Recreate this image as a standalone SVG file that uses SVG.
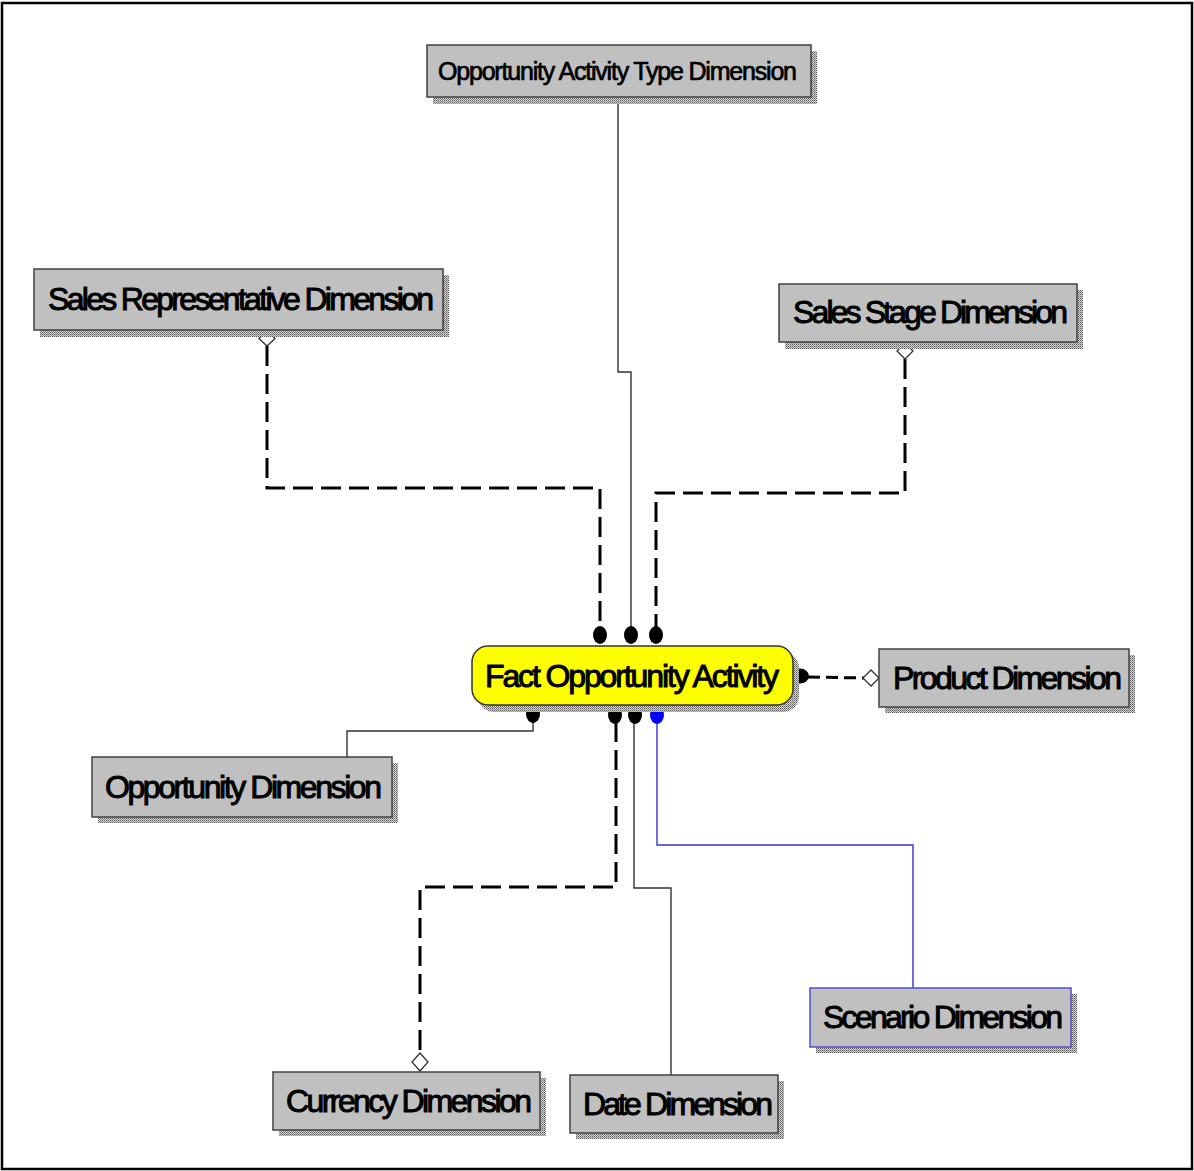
<svg xmlns="http://www.w3.org/2000/svg" width="1194" height="1171" viewBox="0 0 1194 1171">
<defs>
<pattern id="dots" width="2" height="2" patternUnits="userSpaceOnUse">
<rect x="0" y="0" width="2" height="2" fill="#d8d8d8"/>
<rect x="0" y="0" width="1" height="1" fill="#555"/>
<rect x="1" y="1" width="1" height="1" fill="#888"/>
</pattern>
<style>
.box{fill:#c0c0c0;stroke:#404040;stroke-width:1.5}
.shadow{fill:url(#dots)}
.lbl{font-family:"Liberation Sans",Arial,sans-serif;font-size:32px;fill:#000;stroke:#000;stroke-width:1}
.small{font-size:25px;stroke-width:0.7}
.solid{fill:none;stroke:#333;stroke-width:1.4}
.dash{fill:none;stroke:#000;stroke-width:3;stroke-dasharray:20 8}
.blue{fill:none;stroke:#3333cc;stroke-width:1.4}
.dot{fill:#000}
.dia{fill:#fff;stroke:#333;stroke-width:1.3}
</style>
</defs>
<rect x="0" y="0" width="1194" height="1171" fill="#fff"/>
<rect x="2" y="3" width="1190" height="1166" fill="none" stroke="#000" stroke-width="2.5"/>

<g id="connectors">
<polyline class="solid" points="618,98 618,372 631,372 631,628"/>
<polyline class="dash" points="267,346 267,488 600,488 600,628"/>
<polyline class="dash" points="905,359 905,493 656,493 656,628"/>
<polyline class="solid" points="347,757 347,731 533,731 533,722"/>
<polyline class="dash" points="616,722 616,887 420,887 420,1054"/>
<polyline class="solid" points="634,722 634,888 671,888 671,1075"/>
<polyline class="blue" points="657,722 657,845 913,845 913,988"/>
<polyline class="dash" points="808,677 865,678" style="stroke-dasharray:12 6"/>
<ellipse class="dot" cx="600" cy="635" rx="7" ry="9"/>
<ellipse class="dot" cx="631" cy="635" rx="7" ry="9"/>
<ellipse class="dot" cx="656" cy="635" rx="7" ry="9"/>
<ellipse class="dot" cx="533" cy="714" rx="7" ry="9"/>
<ellipse class="dot" cx="615" cy="715" rx="7" ry="9"/>
<ellipse class="dot" cx="635" cy="715" rx="7" ry="9"/>
<ellipse cx="657" cy="715" rx="7" ry="9" fill="#0000ff"/>
<ellipse class="dot" cx="800" cy="676" rx="9" ry="7.5"/>
<polygon class="dia" points="267,331 275,338.5 267,346 259,338.5"/>
<polygon class="dia" points="905,343 913,351 905,359 897,351"/>
<polygon class="dia" points="420,1053 428,1062 420,1071 412,1062"/>
<polygon class="dia" points="871,670 879,678 871,686 863,678"/>
</g>

<g id="n-activitytype">
<rect class="shadow" x="433" y="51" width="384" height="53"/>
<rect class="box" x="427" y="45" width="384" height="52"/>
<text class="lbl small" x="438" y="80" textLength="359" lengthAdjust="spacing">Opportunity Activity Type Dimension</text>
</g>

<g id="n-salesrep">
<rect class="shadow" x="40" y="275" width="409" height="62"/>
<rect class="box" x="34" y="269" width="409" height="61"/>
<text class="lbl" x="48" y="310" textLength="386" lengthAdjust="spacing">Sales Representative Dimension</text>
</g>

<g id="n-salesstage">
<rect class="shadow" x="785" y="290" width="298" height="59"/>
<rect class="box" x="779" y="284" width="298" height="58"/>
<text class="lbl" x="793" y="323" textLength="275" lengthAdjust="spacing">Sales Stage Dimension</text>
</g>

<g id="n-fact">
<rect class="shadow" x="478" y="652" width="321" height="60" rx="16"/>
<rect x="472" y="646" width="321" height="59" rx="16" fill="#ffff00" stroke="#333" stroke-width="1.5"/>
<text class="lbl" x="485" y="687" textLength="294" lengthAdjust="spacing">Fact Opportunity Activity</text>
</g>

<g id="n-product">
<rect class="shadow" x="885" y="655" width="250" height="58"/>
<rect class="box" x="879" y="649" width="250" height="58"/>
<text class="lbl" x="893" y="689" textLength="229" lengthAdjust="spacing">Product Dimension</text>
</g>

<g id="n-opportunity">
<rect class="shadow" x="98" y="763" width="300" height="60"/>
<rect class="box" x="92" y="757" width="300" height="60"/>
<text class="lbl" x="105" y="798" textLength="277" lengthAdjust="spacing">Opportunity Dimension</text>
</g>

<g id="n-currency">
<rect class="shadow" x="279" y="1078" width="267" height="58"/>
<rect class="box" x="273" y="1072" width="267" height="58"/>
<text class="lbl" x="286" y="1112" textLength="246" lengthAdjust="spacing">Currency Dimension</text>
</g>

<g id="n-date">
<rect class="shadow" x="576" y="1081" width="208" height="58"/>
<rect class="box" x="570" y="1075" width="208" height="58"/>
<text class="lbl" x="583" y="1115" textLength="190" lengthAdjust="spacing">Date Dimension</text>
</g>

<g id="n-scenario">
<rect class="shadow" x="816" y="994" width="261" height="59"/>
<rect class="box" x="810" y="988" width="261" height="59" style="stroke:#5050c8"/>
<text class="lbl" x="823" y="1028" textLength="240" lengthAdjust="spacing">Scenario Dimension</text>
</g>
</svg>
